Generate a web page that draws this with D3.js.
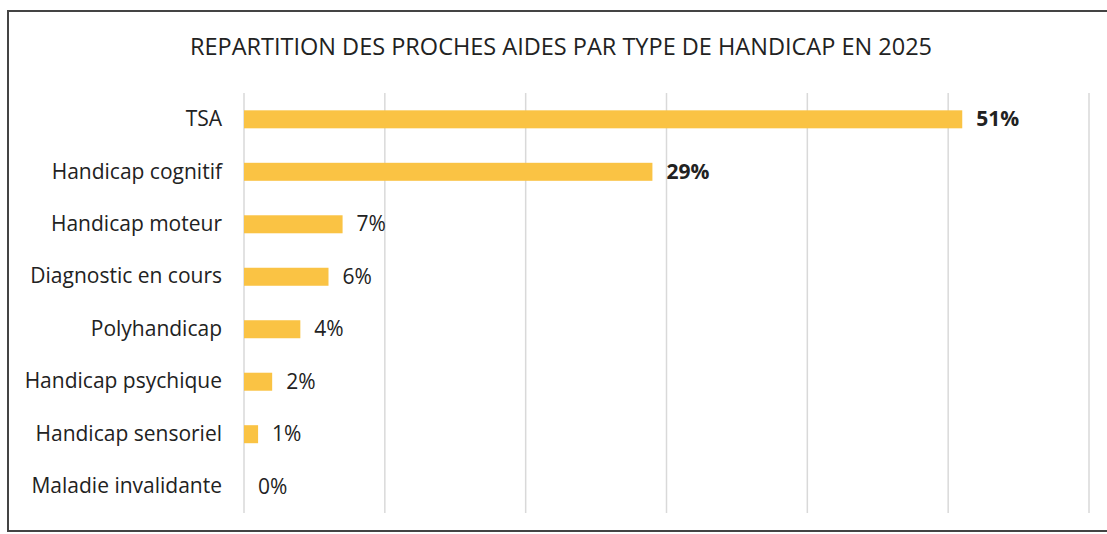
<!DOCTYPE html>
<html><head><meta charset="utf-8">
<script src="https://cdn.jsdelivr.net/npm/d3@7"></script>
<style>body{margin:0;background:#fff}svg{display:block}text{font-family:"Open Sans",sans-serif}</style>
</head><body>
<svg id="c" width="1107" height="534"></svg>
<script>
const title = "REPARTITION DES PROCHES AIDES PAR TYPE DE HANDICAP EN 2025";
const categories = ["TSA","Handicap cognitif","Handicap moteur","Diagnostic en cours","Polyhandicap","Handicap psychique","Handicap sensoriel","Maladie invalidante"];
const values = [51,29,7,6,4,2,1,0];
const boldLabels = [true,true,false,false,false,false,false,false];
const ticks = [0,10,20,30,40,50,60];

const svg = d3.select("#c");
svg.append("rect").attr("x",8).attr("y",11).attr("width",1120).attr("height",520)
  .attr("fill","#fff").attr("stroke","#444").attr("stroke-width",2);

const x = d3.scaleLinear().domain([0,60]).range([244,1089]);
const y = d3.scaleBand().domain(categories).range([93,513]).paddingInner(0.657).paddingOuter(0.33);

svg.append("text").attr("x",561).attr("y",55).attr("text-anchor","middle")
  .attr("font-size",23.5).attr("fill","#222").text(title);

svg.append("g").selectAll("line").data(ticks).join("line")
  .attr("x1",d=>x(d)).attr("x2",d=>x(d)).attr("y1",93).attr("y2",513)
  .attr("stroke","#d9d9d9").attr("stroke-width",1.5);

svg.append("g").selectAll("rect").data(values).join("rect")
  .attr("x",x(0)).attr("y",(d,i)=>y(categories[i])).attr("height",y.bandwidth())
  .attr("width",d=>x(d)-x(0)).attr("fill","#fac344");

const yAxis = d3.axisLeft(y).tickSize(0).tickPadding(22);
const ga = svg.append("g").attr("transform",`translate(${x(0)},0)`).call(yAxis);
ga.select(".domain").remove();
ga.selectAll("text").attr("font-size",21).attr("fill","#222").attr("dy","0.32em").style("font-family","'Open Sans',sans-serif");

svg.append("g").selectAll("text").data(values).join("text")
  .attr("x",d=>x(d)+14).attr("y",(d,i)=>y(categories[i])+y.bandwidth()/2).attr("dy","0.34em")
  .attr("font-size",21).attr("fill","#222").attr("font-weight",(d,i)=>boldLabels[i]?"bold":"normal")
  .text(d=>d+"%");
</script>
</body></html>
